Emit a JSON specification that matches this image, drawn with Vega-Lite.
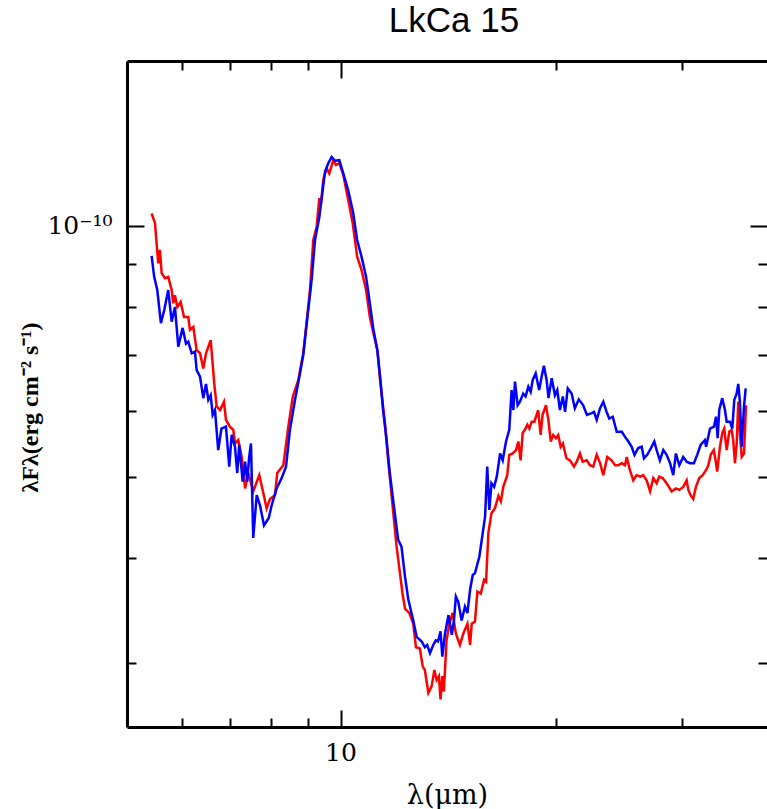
{
"$schema": "https://vega.github.io/schema/vega-lite/v6.json",
"width": 640, "height": 666,
"autosize": {"type": "none"},
"padding": {"left": 127, "top": 61, "right": 0, "bottom": 82},
"title": {"text": "LkCa 15", "font": "Liberation Sans", "fontSize": 35, "fontWeight": "normal", "color": "black", "anchor": "middle", "dx": 7, "offset": -7, "baseline": "alphabetic"},
"config": {"view": {"stroke": null}, "axis": {"grid": false, "domainColor": "black", "domainWidth": 3, "tickColor": "black", "tickWidth": 2, "labelFont": "DejaVu Serif", "labelFontSize": 25, "labelColor": "black", "titleFont": "DejaVu Serif", "titleColor": "black", "titleFontWeight": "normal", "labelOverlap": false, "labelFlush": false}},
"data": {"values": [
{"s":"epoch 1","lam":5.443,"flux":1.035e-10},{"s":"epoch 1","lam":5.502,"flux":1.008e-10},{"s":"epoch 1","lam":5.560,"flux":9.02e-11},{"s":"epoch 1","lam":5.590,"flux":9.36e-11},{"s":"epoch 1","lam":5.622,"flux":8.78e-11},{"s":"epoch 1","lam":5.682,"flux":8.66e-11},{"s":"epoch 1","lam":5.742,"flux":8.69e-11},{"s":"epoch 1","lam":5.806,"flux":8.38e-11},{"s":"epoch 1","lam":5.835,"flux":8.08e-11},{"s":"epoch 1","lam":5.867,"flux":8.26e-11},{"s":"epoch 1","lam":5.912,"flux":8.00e-11},{"s":"epoch 1","lam":5.976,"flux":8.11e-11},{"s":"epoch 1","lam":6.042,"flux":7.78e-11},{"s":"epoch 1","lam":6.125,"flux":7.78e-11},{"s":"epoch 1","lam":6.158,"flux":7.51e-11},{"s":"epoch 1","lam":6.225,"flux":7.57e-11},{"s":"epoch 1","lam":6.292,"flux":7.10e-11},{"s":"epoch 1","lam":6.361,"flux":7.04e-11},{"s":"epoch 1","lam":6.428,"flux":6.75e-11},{"s":"epoch 1","lam":6.485,"flux":7.04e-11},{"s":"epoch 1","lam":6.583,"flux":7.30e-11},{"s":"epoch 1","lam":6.660,"flux":6.47e-11},{"s":"epoch 1","lam":6.711,"flux":6.08e-11},{"s":"epoch 1","lam":6.784,"flux":6.02e-11},{"s":"epoch 1","lam":6.871,"flux":6.16e-11},{"s":"epoch 1","lam":6.915,"flux":5.86e-11},{"s":"epoch 1","lam":7.005,"flux":5.75e-11},{"s":"epoch 1","lam":7.080,"flux":5.70e-11},{"s":"epoch 1","lam":7.119,"flux":5.49e-11},{"s":"epoch 1","lam":7.194,"flux":5.54e-11},{"s":"epoch 1","lam":7.274,"flux":5.29e-11},{"s":"epoch 1","lam":7.355,"flux":4.85e-11},{"s":"epoch 1","lam":7.431,"flux":5.06e-11},{"s":"epoch 1","lam":7.550,"flux":4.81e-11},{"s":"epoch 1","lam":7.699,"flux":5.03e-11},{"s":"epoch 1","lam":7.816,"flux":4.75e-11},{"s":"epoch 1","lam":7.883,"flux":4.59e-11},{"s":"epoch 1","lam":7.969,"flux":4.71e-11},{"s":"epoch 1","lam":8.096,"flux":4.76e-11},{"s":"epoch 1","lam":8.157,"flux":5.06e-11},{"s":"epoch 1","lam":8.318,"flux":5.17e-11},{"s":"epoch 1","lam":8.453,"flux":5.75e-11},{"s":"epoch 1","lam":8.577,"flux":6.25e-11},{"s":"epoch 1","lam":8.730,"flux":6.54e-11},{"s":"epoch 1","lam":8.870,"flux":7.04e-11},{"s":"epoch 1","lam":9.064,"flux":8.38e-11},{"s":"epoch 1","lam":9.161,"flux":9.62e-11},{"s":"epoch 1","lam":9.261,"flux":9.98e-11},{"s":"epoch 1","lam":9.341,"flux":1.080e-10},{"s":"epoch 1","lam":9.392,"flux":1.064e-10},{"s":"epoch 1","lam":9.461,"flux":1.136e-10},{"s":"epoch 1","lam":9.565,"flux":1.172e-10},{"s":"epoch 1","lam":9.645,"flux":1.156e-10},{"s":"epoch 1","lam":9.770,"flux":1.199e-10},{"s":"epoch 1","lam":9.855,"flux":1.183e-10},{"s":"epoch 1","lam":9.961,"flux":1.189e-10},{"s":"epoch 1","lam":10.09,"flux":1.151e-10},{"s":"epoch 1","lam":10.25,"flux":1.075e-10},{"s":"epoch 1","lam":10.40,"flux":1.008e-10},{"s":"epoch 1","lam":10.55,"flux":9.19e-11},{"s":"epoch 1","lam":10.70,"flux":8.86e-11},{"s":"epoch 1","lam":10.86,"flux":8.38e-11},{"s":"epoch 1","lam":10.99,"flux":7.78e-11},{"s":"epoch 1","lam":11.09,"flux":7.51e-11},{"s":"epoch 1","lam":11.26,"flux":7.10e-11},{"s":"epoch 1","lam":11.36,"flux":6.54e-11},{"s":"epoch 1","lam":11.54,"flux":5.80e-11},{"s":"epoch 1","lam":11.66,"flux":5.24e-11},{"s":"epoch 1","lam":11.79,"flux":4.75e-11},{"s":"epoch 1","lam":11.98,"flux":4.13e-11},{"s":"epoch 1","lam":12.11,"flux":3.84e-11},{"s":"epoch 1","lam":12.21,"flux":3.63e-11},{"s":"epoch 1","lam":12.31,"flux":3.48e-11},{"s":"epoch 1","lam":12.48,"flux":3.44e-11},{"s":"epoch 1","lam":12.64,"flux":3.34e-11},{"s":"epoch 1","lam":12.75,"flux":3.13e-11},{"s":"epoch 1","lam":12.91,"flux":3.12e-11},{"s":"epoch 1","lam":13.03,"flux":2.97e-11},{"s":"epoch 1","lam":13.12,"flux":2.94e-11},{"s":"epoch 1","lam":13.27,"flux":2.76e-11},{"s":"epoch 1","lam":13.41,"flux":2.81e-11},{"s":"epoch 1","lam":13.53,"flux":2.94e-11},{"s":"epoch 1","lam":13.63,"flux":2.86e-11},{"s":"epoch 1","lam":13.73,"flux":2.89e-11},{"s":"epoch 1","lam":13.80,"flux":2.71e-11},{"s":"epoch 1","lam":13.88,"flux":2.89e-11},{"s":"epoch 1","lam":13.95,"flux":2.77e-11},{"s":"epoch 1","lam":14.07,"flux":3.19e-11},{"s":"epoch 1","lam":14.20,"flux":3.34e-11},{"s":"epoch 1","lam":14.35,"flux":3.44e-11},{"s":"epoch 1","lam":14.50,"flux":3.25e-11},{"s":"epoch 1","lam":14.69,"flux":3.15e-11},{"s":"epoch 1","lam":14.85,"flux":3.25e-11},{"s":"epoch 1","lam":15.05,"flux":3.34e-11},{"s":"epoch 1","lam":15.18,"flux":3.15e-11},{"s":"epoch 1","lam":15.26,"flux":3.34e-11},{"s":"epoch 1","lam":15.42,"flux":3.36e-11},{"s":"epoch 1","lam":15.54,"flux":3.65e-11},{"s":"epoch 1","lam":15.71,"flux":3.63e-11},{"s":"epoch 1","lam":15.88,"flux":3.77e-11},{"s":"epoch 1","lam":15.98,"flux":3.75e-11},{"s":"epoch 1","lam":16.10,"flux":4.29e-11},{"s":"epoch 1","lam":16.26,"flux":4.53e-11},{"s":"epoch 1","lam":16.44,"flux":4.59e-11},{"s":"epoch 1","lam":16.63,"flux":4.75e-11},{"s":"epoch 1","lam":16.76,"flux":4.68e-11},{"s":"epoch 1","lam":16.89,"flux":4.87e-11},{"s":"epoch 1","lam":17.11,"flux":5.03e-11},{"s":"epoch 1","lam":17.22,"flux":5.32e-11},{"s":"epoch 1","lam":17.41,"flux":5.34e-11},{"s":"epoch 1","lam":17.60,"flux":5.39e-11},{"s":"epoch 1","lam":17.73,"flux":5.52e-11},{"s":"epoch 1","lam":17.86,"flux":5.24e-11},{"s":"epoch 1","lam":17.98,"flux":5.65e-11},{"s":"epoch 1","lam":18.11,"flux":5.70e-11},{"s":"epoch 1","lam":18.25,"flux":5.78e-11},{"s":"epoch 1","lam":18.37,"flux":5.72e-11},{"s":"epoch 1","lam":18.51,"flux":5.83e-11},{"s":"epoch 1","lam":18.67,"flux":5.83e-11},{"s":"epoch 1","lam":18.90,"flux":6.02e-11},{"s":"epoch 1","lam":19.05,"flux":5.62e-11},{"s":"epoch 1","lam":19.17,"flux":5.94e-11},{"s":"epoch 1","lam":19.38,"flux":6.10e-11},{"s":"epoch 1","lam":19.53,"flux":5.86e-11},{"s":"epoch 1","lam":19.68,"flux":5.52e-11},{"s":"epoch 1","lam":19.84,"flux":5.62e-11},{"s":"epoch 1","lam":20.01,"flux":5.57e-11},{"s":"epoch 1","lam":20.16,"flux":5.62e-11},{"s":"epoch 1","lam":20.32,"flux":5.44e-11},{"s":"epoch 1","lam":20.47,"flux":5.49e-11},{"s":"epoch 1","lam":20.70,"flux":5.27e-11},{"s":"epoch 1","lam":20.94,"flux":5.24e-11},{"s":"epoch 1","lam":21.21,"flux":5.15e-11},{"s":"epoch 1","lam":21.40,"flux":5.22e-11},{"s":"epoch 1","lam":21.62,"flux":5.34e-11},{"s":"epoch 1","lam":21.81,"flux":5.22e-11},{"s":"epoch 1","lam":22.10,"flux":5.24e-11},{"s":"epoch 1","lam":22.33,"flux":5.17e-11},{"s":"epoch 1","lam":22.57,"flux":5.15e-11},{"s":"epoch 1","lam":22.82,"flux":5.32e-11},{"s":"epoch 1","lam":23.07,"flux":5.20e-11},{"s":"epoch 1","lam":23.31,"flux":5.03e-11},{"s":"epoch 1","lam":23.61,"flux":5.29e-11},{"s":"epoch 1","lam":23.94,"flux":5.24e-11},{"s":"epoch 1","lam":24.21,"flux":5.17e-11},{"s":"epoch 1","lam":24.46,"flux":5.17e-11},{"s":"epoch 1","lam":24.74,"flux":5.20e-11},{"s":"epoch 1","lam":25.00,"flux":5.17e-11},{"s":"epoch 1","lam":25.14,"flux":5.29e-11},{"s":"epoch 1","lam":25.35,"flux":5.13e-11},{"s":"epoch 1","lam":25.67,"flux":4.96e-11},{"s":"epoch 1","lam":25.95,"flux":5.03e-11},{"s":"epoch 1","lam":26.28,"flux":5.01e-11},{"s":"epoch 1","lam":26.51,"flux":5.03e-11},{"s":"epoch 1","lam":26.80,"flux":4.96e-11},{"s":"epoch 1","lam":27.10,"flux":4.81e-11},{"s":"epoch 1","lam":27.38,"flux":4.99e-11},{"s":"epoch 1","lam":27.68,"flux":4.92e-11},{"s":"epoch 1","lam":27.91,"flux":5.01e-11},{"s":"epoch 1","lam":28.22,"flux":4.99e-11},{"s":"epoch 1","lam":28.58,"flux":4.92e-11},{"s":"epoch 1","lam":29.05,"flux":4.81e-11},{"s":"epoch 1","lam":29.45,"flux":4.85e-11},{"s":"epoch 1","lam":29.77,"flux":4.83e-11},{"s":"epoch 1","lam":30.15,"flux":4.87e-11},{"s":"epoch 1","lam":30.49,"flux":4.96e-11},{"s":"epoch 1","lam":30.65,"flux":4.83e-11},{"s":"epoch 1","lam":30.88,"flux":4.76e-11},{"s":"epoch 1","lam":31.14,"flux":4.71e-11},{"s":"epoch 1","lam":31.41,"flux":4.87e-11},{"s":"epoch 1","lam":31.75,"flux":4.99e-11},{"s":"epoch 1","lam":32.10,"flux":5.03e-11},{"s":"epoch 1","lam":32.44,"flux":5.10e-11},{"s":"epoch 1","lam":32.69,"flux":5.17e-11},{"s":"epoch 1","lam":32.94,"flux":5.32e-11},{"s":"epoch 1","lam":33.27,"flux":5.39e-11},{"s":"epoch 1","lam":33.46,"flux":5.24e-11},{"s":"epoch 1","lam":33.64,"flux":5.08e-11},{"s":"epoch 1","lam":33.94,"flux":5.44e-11},{"s":"epoch 1","lam":34.19,"flux":5.65e-11},{"s":"epoch 1","lam":34.41,"flux":5.72e-11},{"s":"epoch 1","lam":34.68,"flux":5.39e-11},{"s":"epoch 1","lam":34.97,"flux":5.67e-11},{"s":"epoch 1","lam":35.24,"flux":5.70e-11},{"s":"epoch 1","lam":35.42,"flux":5.54e-11},{"s":"epoch 1","lam":35.62,"flux":5.20e-11},{"s":"epoch 1","lam":35.82,"flux":5.49e-11},{"s":"epoch 1","lam":36.00,"flux":6.16e-11},{"s":"epoch 1","lam":36.19,"flux":5.65e-11},{"s":"epoch 1","lam":36.40,"flux":5.29e-11},{"s":"epoch 1","lam":36.67,"flux":5.34e-11},{"s":"epoch 1","lam":36.91,"flux":6.10e-11},
{"s":"epoch 2","lam":5.443,"flux":9.21e-11},{"s":"epoch 2","lam":5.488,"flux":8.69e-11},{"s":"epoch 2","lam":5.543,"flux":8.38e-11},{"s":"epoch 2","lam":5.608,"flux":7.65e-11},{"s":"epoch 2","lam":5.669,"flux":7.93e-11},{"s":"epoch 2","lam":5.742,"flux":8.38e-11},{"s":"epoch 2","lam":5.806,"flux":7.68e-11},{"s":"epoch 2","lam":5.867,"flux":8.00e-11},{"s":"epoch 2","lam":5.931,"flux":7.17e-11},{"s":"epoch 2","lam":6.014,"flux":7.55e-11},{"s":"epoch 2","lam":6.080,"flux":7.23e-11},{"s":"epoch 2","lam":6.125,"flux":7.27e-11},{"s":"epoch 2","lam":6.193,"flux":7.04e-11},{"s":"epoch 2","lam":6.258,"flux":7.07e-11},{"s":"epoch 2","lam":6.292,"flux":6.72e-11},{"s":"epoch 2","lam":6.361,"flux":6.60e-11},{"s":"epoch 2","lam":6.428,"flux":6.22e-11},{"s":"epoch 2","lam":6.485,"flux":6.47e-11},{"s":"epoch 2","lam":6.533,"flux":6.19e-11},{"s":"epoch 2","lam":6.583,"flux":6.27e-11},{"s":"epoch 2","lam":6.626,"flux":5.94e-11},{"s":"epoch 2","lam":6.675,"flux":6.02e-11},{"s":"epoch 2","lam":6.745,"flux":5.39e-11},{"s":"epoch 2","lam":6.815,"flux":5.72e-11},{"s":"epoch 2","lam":6.915,"flux":5.75e-11},{"s":"epoch 2","lam":6.989,"flux":5.15e-11},{"s":"epoch 2","lam":7.043,"flux":5.62e-11},{"s":"epoch 2","lam":7.119,"flux":5.44e-11},{"s":"epoch 2","lam":7.171,"flux":5.06e-11},{"s":"epoch 2","lam":7.217,"flux":5.47e-11},{"s":"epoch 2","lam":7.298,"flux":4.94e-11},{"s":"epoch 2","lam":7.355,"flux":5.22e-11},{"s":"epoch 2","lam":7.405,"flux":4.94e-11},{"s":"epoch 2","lam":7.448,"flux":5.27e-11},{"s":"epoch 2","lam":7.495,"flux":5.49e-11},{"s":"epoch 2","lam":7.550,"flux":4.23e-11},{"s":"epoch 2","lam":7.635,"flux":4.76e-11},{"s":"epoch 2","lam":7.716,"flux":4.63e-11},{"s":"epoch 2","lam":7.816,"flux":4.38e-11},{"s":"epoch 2","lam":7.937,"flux":4.47e-11},{"s":"epoch 2","lam":8.012,"flux":4.63e-11},{"s":"epoch 2","lam":8.142,"flux":4.85e-11},{"s":"epoch 2","lam":8.274,"flux":4.99e-11},{"s":"epoch 2","lam":8.390,"flux":5.15e-11},{"s":"epoch 2","lam":8.497,"flux":5.70e-11},{"s":"epoch 2","lam":8.636,"flux":6.19e-11},{"s":"epoch 2","lam":8.777,"flux":6.66e-11},{"s":"epoch 2","lam":8.870,"flux":7.01e-11},{"s":"epoch 2","lam":8.949,"flux":7.51e-11},{"s":"epoch 2","lam":9.112,"flux":8.62e-11},{"s":"epoch 2","lam":9.211,"flux":9.62e-11},{"s":"epoch 2","lam":9.341,"flux":1.025e-10},{"s":"epoch 2","lam":9.443,"flux":1.104e-10},{"s":"epoch 2","lam":9.512,"flux":1.161e-10},{"s":"epoch 2","lam":9.615,"flux":1.189e-10},{"s":"epoch 2","lam":9.719,"flux":1.210e-10},{"s":"epoch 2","lam":9.824,"flux":1.197e-10},{"s":"epoch 2","lam":9.961,"flux":1.199e-10},{"s":"epoch 2","lam":10.09,"flux":1.156e-10},{"s":"epoch 2","lam":10.25,"flux":1.104e-10},{"s":"epoch 2","lam":10.42,"flux":1.035e-10},{"s":"epoch 2","lam":10.55,"flux":9.62e-11},{"s":"epoch 2","lam":10.70,"flux":9.19e-11},{"s":"epoch 2","lam":10.86,"flux":8.69e-11},{"s":"epoch 2","lam":10.99,"flux":8.08e-11},{"s":"epoch 2","lam":11.11,"flux":7.55e-11},{"s":"epoch 2","lam":11.26,"flux":7.10e-11},{"s":"epoch 2","lam":11.36,"flux":6.60e-11},{"s":"epoch 2","lam":11.47,"flux":6.02e-11},{"s":"epoch 2","lam":11.60,"flux":5.54e-11},{"s":"epoch 2","lam":11.72,"flux":5.06e-11},{"s":"epoch 2","lam":11.88,"flux":4.61e-11},{"s":"epoch 2","lam":12.04,"flux":4.21e-11},{"s":"epoch 2","lam":12.17,"flux":4.13e-11},{"s":"epoch 2","lam":12.31,"flux":3.80e-11},{"s":"epoch 2","lam":12.44,"flux":3.57e-11},{"s":"epoch 2","lam":12.64,"flux":3.37e-11},{"s":"epoch 2","lam":12.78,"flux":3.22e-11},{"s":"epoch 2","lam":12.99,"flux":3.18e-11},{"s":"epoch 2","lam":13.12,"flux":3.13e-11},{"s":"epoch 2","lam":13.22,"flux":3.15e-11},{"s":"epoch 2","lam":13.34,"flux":3.08e-11},{"s":"epoch 2","lam":13.48,"flux":3.15e-11},{"s":"epoch 2","lam":13.59,"flux":3.19e-11},{"s":"epoch 2","lam":13.69,"flux":3.18e-11},{"s":"epoch 2","lam":13.80,"flux":3.27e-11},{"s":"epoch 2","lam":13.88,"flux":3.05e-11},{"s":"epoch 2","lam":14.00,"flux":3.25e-11},{"s":"epoch 2","lam":14.16,"flux":3.42e-11},{"s":"epoch 2","lam":14.31,"flux":3.24e-11},{"s":"epoch 2","lam":14.41,"flux":3.37e-11},{"s":"epoch 2","lam":14.50,"flux":3.60e-11},{"s":"epoch 2","lam":14.61,"flux":3.55e-11},{"s":"epoch 2","lam":14.77,"flux":3.37e-11},{"s":"epoch 2","lam":14.93,"flux":3.50e-11},{"s":"epoch 2","lam":15.05,"flux":3.44e-11},{"s":"epoch 2","lam":15.18,"flux":3.67e-11},{"s":"epoch 2","lam":15.31,"flux":3.82e-11},{"s":"epoch 2","lam":15.42,"flux":3.84e-11},{"s":"epoch 2","lam":15.64,"flux":4.02e-11},{"s":"epoch 2","lam":15.81,"flux":4.29e-11},{"s":"epoch 2","lam":15.93,"flux":4.49e-11},{"s":"epoch 2","lam":16.04,"flux":5.15e-11},{"s":"epoch 2","lam":16.15,"flux":4.57e-11},{"s":"epoch 2","lam":16.26,"flux":4.92e-11},{"s":"epoch 2","lam":16.40,"flux":4.87e-11},{"s":"epoch 2","lam":16.54,"flux":5.01e-11},{"s":"epoch 2","lam":16.72,"flux":5.34e-11},{"s":"epoch 2","lam":16.86,"flux":5.24e-11},{"s":"epoch 2","lam":17.04,"flux":5.52e-11},{"s":"epoch 2","lam":17.22,"flux":5.70e-11},{"s":"epoch 2","lam":17.35,"flux":6.36e-11},{"s":"epoch 2","lam":17.45,"flux":6.02e-11},{"s":"epoch 2","lam":17.54,"flux":6.51e-11},{"s":"epoch 2","lam":17.69,"flux":6.10e-11},{"s":"epoch 2","lam":17.82,"flux":6.16e-11},{"s":"epoch 2","lam":18.01,"flux":6.30e-11},{"s":"epoch 2","lam":18.15,"flux":6.25e-11},{"s":"epoch 2","lam":18.31,"flux":6.42e-11},{"s":"epoch 2","lam":18.45,"flux":6.33e-11},{"s":"epoch 2","lam":18.57,"flux":6.54e-11},{"s":"epoch 2","lam":18.75,"flux":6.66e-11},{"s":"epoch 2","lam":18.96,"flux":6.36e-11},{"s":"epoch 2","lam":19.11,"flux":6.60e-11},{"s":"epoch 2","lam":19.25,"flux":6.80e-11},{"s":"epoch 2","lam":19.42,"flux":6.54e-11},{"s":"epoch 2","lam":19.54,"flux":6.22e-11},{"s":"epoch 2","lam":19.74,"flux":6.57e-11},{"s":"epoch 2","lam":19.95,"flux":6.27e-11},{"s":"epoch 2","lam":20.10,"flux":6.36e-11},{"s":"epoch 2","lam":20.27,"flux":6.02e-11},{"s":"epoch 2","lam":20.46,"flux":6.25e-11},{"s":"epoch 2","lam":20.61,"flux":5.99e-11},{"s":"epoch 2","lam":20.79,"flux":6.39e-11},{"s":"epoch 2","lam":21.05,"flux":6.30e-11},{"s":"epoch 2","lam":21.27,"flux":6.05e-11},{"s":"epoch 2","lam":21.54,"flux":6.20e-11},{"s":"epoch 2","lam":21.85,"flux":6.10e-11},{"s":"epoch 2","lam":22.11,"flux":5.94e-11},{"s":"epoch 2","lam":22.46,"flux":5.97e-11},{"s":"epoch 2","lam":22.62,"flux":5.99e-11},{"s":"epoch 2","lam":22.82,"flux":5.86e-11},{"s":"epoch 2","lam":23.07,"flux":6.05e-11},{"s":"epoch 2","lam":23.31,"flux":6.16e-11},{"s":"epoch 2","lam":23.56,"flux":5.99e-11},{"s":"epoch 2","lam":23.76,"flux":5.88e-11},{"s":"epoch 2","lam":24.03,"flux":5.91e-11},{"s":"epoch 2","lam":24.34,"flux":5.67e-11},{"s":"epoch 2","lam":24.74,"flux":5.67e-11},{"s":"epoch 2","lam":25.00,"flux":5.59e-11},{"s":"epoch 2","lam":25.27,"flux":5.52e-11},{"s":"epoch 2","lam":25.54,"flux":5.44e-11},{"s":"epoch 2","lam":25.77,"flux":5.32e-11},{"s":"epoch 2","lam":26.08,"flux":5.42e-11},{"s":"epoch 2","lam":26.38,"flux":5.44e-11},{"s":"epoch 2","lam":26.57,"flux":5.27e-11},{"s":"epoch 2","lam":26.85,"flux":5.32e-11},{"s":"epoch 2","lam":27.18,"flux":5.42e-11},{"s":"epoch 2","lam":27.47,"flux":5.52e-11},{"s":"epoch 2","lam":27.68,"flux":5.39e-11},{"s":"epoch 2","lam":27.97,"flux":5.24e-11},{"s":"epoch 2","lam":28.28,"flux":5.39e-11},{"s":"epoch 2","lam":28.58,"flux":5.32e-11},{"s":"epoch 2","lam":28.90,"flux":5.20e-11},{"s":"epoch 2","lam":29.20,"flux":5.03e-11},{"s":"epoch 2","lam":29.45,"flux":5.34e-11},{"s":"epoch 2","lam":29.77,"flux":5.17e-11},{"s":"epoch 2","lam":30.15,"flux":5.29e-11},{"s":"epoch 2","lam":30.49,"flux":5.22e-11},{"s":"epoch 2","lam":30.81,"flux":5.20e-11},{"s":"epoch 2","lam":31.21,"flux":5.20e-11},{"s":"epoch 2","lam":31.54,"flux":5.32e-11},{"s":"epoch 2","lam":31.90,"flux":5.47e-11},{"s":"epoch 2","lam":32.33,"flux":5.54e-11},{"s":"epoch 2","lam":32.46,"flux":5.44e-11},{"s":"epoch 2","lam":32.87,"flux":5.72e-11},{"s":"epoch 2","lam":33.29,"flux":5.75e-11},{"s":"epoch 2","lam":33.51,"flux":5.91e-11},{"s":"epoch 2","lam":33.69,"flux":5.57e-11},{"s":"epoch 2","lam":33.86,"flux":6.02e-11},{"s":"epoch 2","lam":34.19,"flux":6.22e-11},{"s":"epoch 2","lam":34.49,"flux":6.02e-11},{"s":"epoch 2","lam":34.68,"flux":5.83e-11},{"s":"epoch 2","lam":35.05,"flux":5.83e-11},{"s":"epoch 2","lam":35.31,"flux":5.72e-11},{"s":"epoch 2","lam":35.54,"flux":6.19e-11},{"s":"epoch 2","lam":35.82,"flux":6.30e-11},{"s":"epoch 2","lam":36.00,"flux":6.47e-11},{"s":"epoch 2","lam":36.19,"flux":6.16e-11},{"s":"epoch 2","lam":36.40,"flux":5.44e-11},{"s":"epoch 2","lam":36.67,"flux":6.08e-11},{"s":"epoch 2","lam":36.87,"flux":6.39e-11}
]},
"layer": [
{
"transform": [{"filter": "datum.s == 'epoch 1'"}],
"mark": {"type": "line", "strokeWidth": 2.5},
"encoding": {
"x": {"field": "lam", "type": "quantitative", "scale": {"type": "log", "domain": [5.028, 39.49], "nice": false},
"axis": {"orient": "bottom", "values": [6,7,8,9,10,20,30], "tickSize": {"condition": {"test": "datum.value == 10", "value": -17}, "value": -9}, "labelExpr": "datum.value == 10 ? '10' : ''", "labelPadding": 30, "title": "λ(μm)", "titleFontSize": 27, "titlePadding": 9}},
"y": {"field": "flux", "type": "quantitative", "scale": {"type": "log", "domain": [2.512e-11, 1.576e-10], "nice": false},
"axis": {"orient": "left", "values": [3e-11,4e-11,5e-11,6e-11,7e-11,8e-11,9e-11,1e-10], "tickSize": {"condition": {"test": "datum.value > 9.5e-11", "value": -17}, "value": -9}, "labelExpr": "datum.value > 9.5e-11 ? '10⁻¹⁰' : ''", "labelPadding": 32, "title": "λFλ(erg cm⁻² s⁻¹)", "titleFont": "Liberation Serif", "titleFontWeight": "bold", "titleFontSize": 24, "titlePadding": 4, "titleY": 346}},
"color": {"field": "s", "type": "nominal", "scale": {"domain": ["epoch 1", "epoch 2"], "range": ["#ff0000", "#0000ff"]}, "legend": null}
}
},
{
"transform": [{"filter": "datum.s == 'epoch 2'"}],
"mark": {"type": "line", "strokeWidth": 2.5},
"encoding": {
"x": {"field": "lam", "type": "quantitative", "scale": {"type": "log", "domain": [5.028, 39.49], "nice": false},
"axis": {"orient": "top", "values": [6,7,8,9,10,20,30], "tickSize": {"condition": {"test": "datum.value == 10", "value": -17}, "value": -9}, "labels": false, "title": null}},
"y": {"field": "flux", "type": "quantitative", "scale": {"type": "log", "domain": [2.512e-11, 1.576e-10], "nice": false},
"axis": {"orient": "right", "values": [3e-11,4e-11,5e-11,6e-11,7e-11,8e-11,9e-11,1e-10], "tickSize": {"condition": {"test": "datum.value > 9.5e-11", "value": -17}, "value": -9}, "labels": false, "title": null, "domain": false}},
"color": {"field": "s", "type": "nominal", "scale": {"domain": ["epoch 1", "epoch 2"], "range": ["#ff0000", "#0000ff"]}, "legend": null}
}
}
],
"resolve": {"axis": {"x": "independent", "y": "independent"}}
}
